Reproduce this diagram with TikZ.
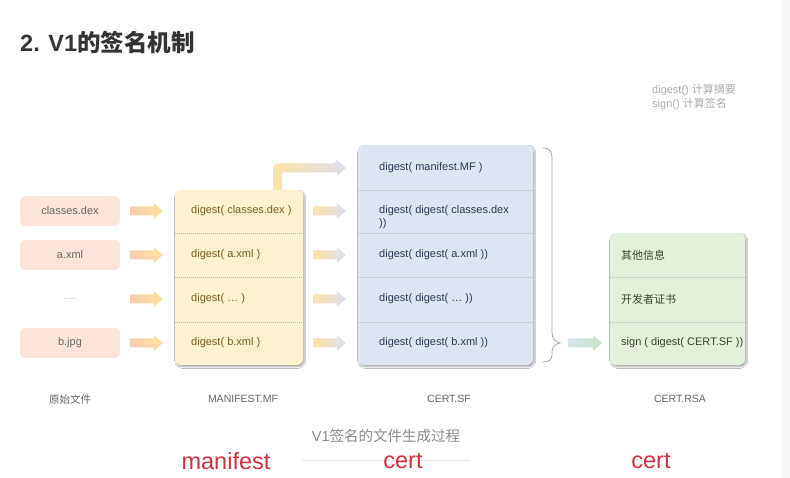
\documentclass[tikz,border=0pt]{standalone}
\usepackage{fontspec}
\setmainfont{Liberation Sans}
\newfontfamily\cjk{Noto Sans CJK SC}
\usetikzlibrary{calc,shadows.blur}
\definecolor{titlec}{HTML}{333333}
\definecolor{legendc}{HTML}{ADADAD}
\definecolor{filefill}{HTML}{FDE4DA}
\definecolor{filetext}{HTML}{666666}
\definecolor{mffill}{HTML}{FEF1CF}
\definecolor{mftext}{HTML}{7A5E22}
\definecolor{sffill}{HTML}{DCE5F1}
\definecolor{sftext}{HTML}{2B3A55}
\definecolor{rsafill}{HTML}{E3F1DC}
\definecolor{rsatext}{HTML}{3A4428}
\definecolor{peach}{HTML}{FCCDB2}
\definecolor{yel}{HTML}{FDE2A2}
\definecolor{lav}{HTML}{DDDFF0}
\definecolor{bluegray}{HTML}{D9E4EE}
\definecolor{greenish}{HTML}{C9E3C4}
\definecolor{bracec}{HTML}{8FA2BC}
\definecolor{labc}{HTML}{666666}
\definecolor{capc}{HTML}{8A8A8A}
\definecolor{redc}{HTML}{D5313C}
\definecolor{divc}{HTML}{B8B8B8}
\tikzset{
  filebox/.style={fill=filefill, rounded corners=5pt, minimum width=100pt, minimum height=30pt, inner sep=0pt, font=\fontsize{11}{13}\selectfont, text=filetext},
  bigbox/.style={rounded corners=6pt, inner sep=0pt, blur shadow={shadow xshift=1.2pt, shadow yshift=-1.8pt, shadow opacity=35, shadow blur steps=6, shadow blur radius=1.5pt}},
  rowtext/.style={anchor=west, inner sep=0pt, font=\fontsize{11}{13}\selectfont, align=left},
  divider/.style={draw=divc, line width=0.5pt, dash pattern=on 1pt off 1pt},
  botlabel/.style={text=labc, font=\fontsize{10.5}{12}\selectfont, inner sep=0pt},
  redlabel/.style={text=redc, font=\fontsize{23.5}{25}\selectfont, inner sep=0pt},
}
\newcommand\blockarr[4]{%
  \shade[left color=#3, right color=#4] let \p1=(#1), \p2=(#2) in
    (\x1,\y1+4.5pt) -- (\x2-9pt,\y1+4.5pt) -- (\x2-9pt,\y1+8pt) -- (\x2,\y1)
    -- (\x2-9pt,\y1-8pt) -- (\x2-9pt,\y1-4.5pt) -- (\x1,\y1-4.5pt) -- cycle;}
\begin{document}
\begin{tikzpicture}[x=1pt,y=-1pt]
\useasboundingbox (0,0) rectangle (790,478);
\fill[white] (0,0) rectangle (790,478);
\fill[gray!7] (782,0) rectangle (790,478);

% title and legend
\node[anchor=west, inner sep=0pt, text=titlec, font=\fontsize{23.5}{25}\selectfont\bfseries] (title) at (20,42) {2. V1{\cjk\bfseries 的签名机制}};
\node[anchor=west, inner sep=0pt, text=legendc, font=\fontsize{11}{12}\selectfont] (leg1) at (652,90) {digest() {\cjk 计算摘要}};
\node[anchor=west, inner sep=0pt, text=legendc, font=\fontsize{11}{12}\selectfont] (leg2) at (652,104) {sign() {\cjk 计算签名}};

% original files
\node[filebox] (f1) at (70,211) {classes.dex};
\node[filebox] (f2) at (70,255) {a.xml};
\node[inner sep=0pt, text=gray!70, font=\fontsize{8}{9}\selectfont] (f3) at (70,299) {......};
\node[filebox] (f4) at (70,343) {b.jpg};

% bent arrow (behind manifest)
\coordinate (bendstart) at (277.5,190);
\coordinate (s1tip) at (346,168);
\shade[left color=yel, right color=lav] let \p1=(bendstart), \p2=(s1tip) in
  (\x1-4.5pt,\y1) [rounded corners=5pt] -- (\x1-4.5pt,\y2+4.5pt) -- (\x2-9pt,\y2+4.5pt) [sharp corners]
  -- (\x2-9pt,\y2+8pt) -- (\x2,\y2) -- (\x2-9pt,\y2-8pt) -- (\x2-9pt,\y2-4.5pt)
  -- (\x1+4.5pt,\y2-4.5pt) -- (\x1+4.5pt,\y1) -- cycle;

% MANIFEST.MF
\node[bigbox, fill=mffill, minimum width=128pt, minimum height=175pt] (M) at (239,277.5) {};
\draw[divider] ($(M.north west)+(0.5,43)$) -- ($(M.north east)+(-0.5,43)$);
\draw[divider] ($(M.north west)+(0.5,87)$) -- ($(M.north east)+(-0.5,87)$);
\draw[divider] ($(M.north west)+(0.5,132)$) -- ($(M.north east)+(-0.5,132)$);
\node[rowtext, text=mftext] (m1) at (191,211) {digest( classes.dex )};
\node[rowtext, text=mftext] (m2) at (191,255) {digest( a.xml )};
\node[rowtext, text=mftext] (m3) at (191,299) {digest( \dots\ )};
\node[rowtext, text=mftext] (m4) at (191,343) {digest( b.xml )};

% CERT.SF
\node[bigbox, fill=sffill, minimum width=175pt, minimum height=220pt] (S) at (445.5,255) {};
\draw[divider] ($(S.north west)+(0.5,45)$) -- ($(S.north east)+(-0.5,45)$);
\draw[divider] ($(S.north west)+(0.5,88)$) -- ($(S.north east)+(-0.5,88)$);
\draw[divider] ($(S.north west)+(0.5,132)$) -- ($(S.north east)+(-0.5,132)$);
\draw[divider] ($(S.north west)+(0.5,177)$) -- ($(S.north east)+(-0.5,177)$);
\node[rowtext, text=sftext] (s1) at (379,168) {digest( manifest.MF )};
\node[rowtext, text=sftext] (s2) at (379,217) {digest( digest( classes.dex\\))};
\node[rowtext, text=sftext] (s3) at (379,255) {digest( digest( a.xml ))};
\node[rowtext, text=sftext] (s4) at (379,299) {digest( digest( \dots\ ))};
\node[rowtext, text=sftext] (s5) at (379,343) {digest( digest( b.xml ))};

% brace
\draw[bracec, line width=0.7pt, line cap=round]
  (543,148) .. controls (550,148) and (552,151) .. (552,160)
  -- (552,332) .. controls (552,339) and (555,342) .. (560,343)
  .. controls (555,344) and (552,347) .. (552,352)
  -- (552,354) .. controls (552,360) and (549,362) .. (543,362);
\coordinate (bracetip) at (560,343);

% CERT.RSA
\node[bigbox, fill=rsafill, minimum width=135pt, minimum height=132pt] (R) at (677.5,299) {};
\draw[divider] ($(R.north west)+(0.5,44)$) -- ($(R.north east)+(-0.5,44)$);
\draw[divider] ($(R.north west)+(0.5,89)$) -- ($(R.north east)+(-0.5,89)$);
\node[rowtext, text=rsatext] (r1) at (621,255) {{\cjk 其他信息}};
\node[rowtext, text=rsatext] (r2) at (621,299) {{\cjk 开发者证书}};
\node[rowtext, text=rsatext] (r3) at (621,343) {sign ( digest( CERT.SF ))};

% arrows files -> manifest
\foreach \f/\m in {f1/m1,f2/m2,f3/m3,f4/m4}{
  \coordinate (a1) at ($(f1.east |- \f)+(10,0)$);
  \coordinate (a2) at ($(M.west |- \m)+(-12,0)$);
  \blockarr{a1}{a2}{peach}{yel}
}
% arrows manifest -> cert.sf
\foreach \m in {m1,m2,m3,m4}{
  \coordinate (b1) at ($(M.east |- \m)+(10,0)$);
  \coordinate (b2) at ($(S.west |- \m)+(-12,0)$);
  \blockarr{b1}{b2}{yel}{lav}
}
% arrow brace -> cert.rsa
\coordinate (c1) at ($(bracetip)+(8,0)$);
\coordinate (c2) at ($(R.west |- r3)+(-8,0)$);
\blockarr{c1}{c2}{bluegray}{greenish}

% bottom labels
\node[botlabel] (lab1) at (70,399) {\cjk 原始文件};
\node[botlabel] (lab2) at (243,399) {MANIFEST.MF};
\node[botlabel] (lab3) at (449,399) {CERT.SF};
\node[botlabel] (lab4) at (680,399) {CERT.RSA};

% caption
\node[inner sep=0pt, text=capc, font=\fontsize{14.5}{16}\selectfont] (cap) at (386,436) {V1{\cjk 签名的文件生成过程}};
\draw[gray!20, line width=0.6pt] (302,460) -- (470,460);
\node[redlabel] (red1) at (226,461) {manifest};
\node[redlabel] (red2) at (403,461) {cert};
\node[redlabel] (red3) at (651,461) {cert};
\end{tikzpicture}
\end{document}
